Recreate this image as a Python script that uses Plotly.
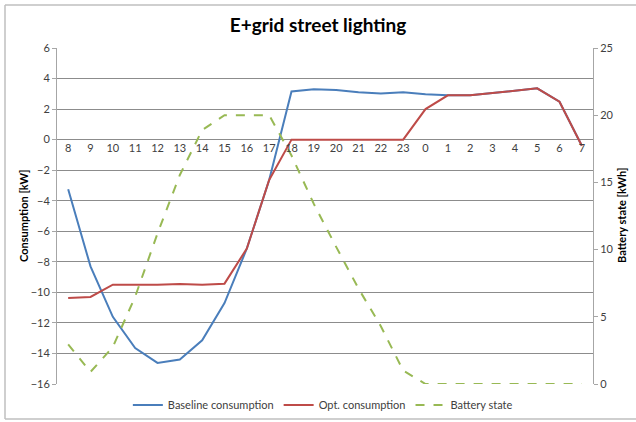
import plotly.graph_objects as go

hours = ["8", "9", "10", "11", "12", "13", "14", "15", "16", "17", "18", "19",
         "20", "21", "22", "23", "0", "1", "2", "3", "4", "5", "6", "7"]
baseline = [-3.25, -8.3, -11.6, -13.65, -14.62, -14.4, -13.14, -10.7, -7.13, -2.64, 3.15, 3.3,
            3.25, 3.1, 3.02, 3.1, 2.97, 2.9, 2.9, 3.05, 3.25, 3.36, 2.48, -0.4]
optimized = [-10.37, -10.3, -9.5, -9.5, -9.5, -9.45, -9.5, -9.43, -7.13, -2.64, 0.0, 0.0,
             0.0, 0.0, 0.0, 0.0, 2.0, 2.9, 2.9, 3.05, 3.25, 3.36, 2.48, -0.4]
battery = [2.95, 0.9, 2.75, 6.5, 11.2, 15.55, 18.9, 20.0, 20.0, 20.0, 17.0, 13.4,
           10.2, 7.1, 4.3, 1.0, 0.0, 0.0, 0.0, 0.0, 0.0, 0.0, 0.0, 0.0]

left_ticks = list(range(-16, 7, 2))
right_ticks = [0, 5, 10, 15, 20, 25]

FONT = "Lato"
TXT = "#404040"

fig = go.Figure()
fig.add_trace(go.Scatter(x=hours, y=baseline, mode="lines", name="Baseline consumption",
                         line=dict(color="#4A7EBB", width=2)))
fig.add_trace(go.Scatter(x=hours, y=optimized, mode="lines", name="Opt. consumption",
                         line=dict(color="#BE4B48", width=2)))
fig.add_trace(go.Scatter(x=hours, y=battery, mode="lines", name="Battery state", yaxis="y2",
                         line=dict(color="#98B954", width=2, dash="dash")))

fig.update_layout(
    width=636, height=422,
    margin=dict(l=57, r=43, t=48, b=38, autoexpand=False),
    paper_bgcolor="white", plot_bgcolor="white",
    font=dict(family=FONT, size=11, color=TXT),
    title=dict(text="<b>E+grid street lighting</b>", x=0.5, xanchor="center",
               y=1 - 25 / 422, yanchor="middle",
               font=dict(family=FONT, size=19, color="black")),
    showlegend=True,
    legend=dict(orientation="h", x=0.496, xanchor="center", y=-0.0625, yanchor="middle",
                font=dict(family=FONT, size=11, color=TXT), bgcolor="rgba(0,0,0,0)"),
    xaxis=dict(type="category", categoryorder="array", categoryarray=hours,
               range=[-0.5, 23.5], anchor="free", position=16 / 22, automargin=False,
               showgrid=False, showline=False, ticks="", zeroline=False,
               tickfont=dict(family=FONT, size=11, color=TXT)),
    yaxis=dict(range=[-16, 6], tickvals=left_ticks, showgrid=True, gridcolor="#8C8C8C",
               gridwidth=1, zeroline=False, showline=True, linecolor="#A6A6A6",
               ticks="outside", ticklen=4, tickcolor="#A6A6A6", automargin=False,
               tickfont=dict(family=FONT, size=11, color=TXT)),
    yaxis2=dict(range=[0, 25], tickvals=right_ticks, overlaying="y", side="right",
                showgrid=False, zeroline=False, showline=True, linecolor="#A6A6A6",
                ticks="outside", ticklen=4, tickcolor="#A6A6A6", automargin=False,
                tickfont=dict(family=FONT, size=11, color=TXT)),
)
fig.add_annotation(text="<b>Consumption [kW]</b>", xref="paper", yref="paper",
                   x=(23 - 57) / 536, y=0.5, xanchor="center", yanchor="middle",
                   textangle=-90, showarrow=False,
                   font=dict(family=FONT, size=11, color="black"))
fig.add_annotation(text="<b>Battery state [kWh]</b>", xref="paper", yref="paper",
                   x=(621 - 57) / 536, y=0.5, xanchor="center", yanchor="middle",
                   textangle=-90, showarrow=False,
                   font=dict(family=FONT, size=11, color="black"))
# outer chart border: left, top and bottom edges (right edge runs off the picture)
bx0, bx1 = -52 / 536, (636 - 57) / 536
by0, by1 = -(419 - 384) / 336, 1 + (48 - 5) / 336
border = dict(color="#BFBFBF", width=1.5)
fig.add_shape(type="line", xref="paper", yref="paper", x0=bx0, x1=bx0, y0=by0, y1=by1, line=border)
fig.add_shape(type="line", xref="paper", yref="paper", x0=bx0, x1=bx1, y0=by1, y1=by1, line=border)
fig.add_shape(type="line", xref="paper", yref="paper", x0=bx0, x1=bx1, y0=by0, y1=by0, line=border)

fig.write_html("out.html", config={"displayModeBar": False},
               post_script=("document.body.style.margin='0';document.body.style.padding='0';"
                            "document.body.style.overflow='hidden';"
                            "document.documentElement.style.overflow='hidden';"))
